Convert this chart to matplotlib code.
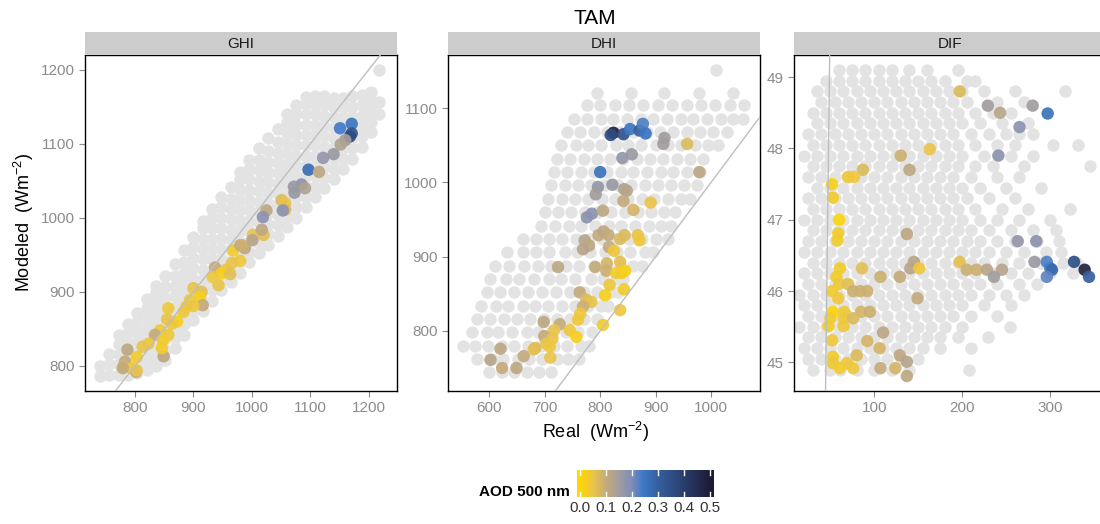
import numpy as np
import matplotlib
matplotlib.use('Agg')
import matplotlib.pyplot as plt
from matplotlib.colors import LinearSegmentedColormap, Normalize

plt.rcParams['font.family'] = ['Liberation Sans', 'DejaVu Sans']
plt.rcParams['mathtext.fontset'] = 'custom'
plt.rcParams['mathtext.rm'] = 'Liberation Sans'
plt.rcParams['mathtext.it'] = 'Liberation Sans:italic'

# ---- data ---------------------------------------------------------------
# grey background clouds: GHI as columns (x, [y...]), DHI / DIF as rows (y, [x...])
ghi_grey = [
    (740, [786, 800]),
    (756, [788, 802, 816]),
    (772, [788, 802, 816, 830, 842]),
    (788, [788, 802, 816, 830, 844, 856]),
    (804, [790, 804, 818, 832, 846, 860, 872]),
    (820, [794, 808, 822, 836, 850, 864, 878, 890]),
    (836, [800, 814, 828, 842, 856, 870, 884, 898, 908]),
    (852, [808, 822, 836, 850, 864, 878, 892, 906, 922]),
    (868, [824, 838, 852, 866, 880, 894, 908, 922, 938]),
    (884, [842, 856, 870, 884, 898, 912, 926, 940, 956]),
    (900, [862, 876, 890, 904, 918, 932, 946, 960, 974]),
    (916, [874, 888, 902, 916, 930, 944, 958, 972, 986, 996]),
    (932, [888, 902, 916, 930, 944, 958, 972, 986, 1000, 1012]),
    (948, [902, 916, 930, 944, 958, 972, 986, 1000, 1014, 1028]),
    (964, [914, 928, 942, 956, 970, 984, 998, 1012, 1026, 1042]),
    (980, [926, 940, 954, 968, 982, 996, 1010, 1024, 1038, 1052, 1062]),
    (996, [940, 954, 968, 982, 996, 1010, 1024, 1038, 1052, 1066, 1078]),
    (1012, [952, 966, 980, 994, 1008, 1022, 1036, 1050, 1064, 1078, 1094]),
    (1028, [964, 978, 992, 1006, 1020, 1034, 1048, 1062, 1076, 1090, 1108]),
    (1044, [976, 990, 1004, 1018, 1032, 1046, 1060, 1074, 1088, 1102, 1120]),
    (1060, [988, 1002, 1016, 1030, 1044, 1058, 1072, 1086, 1100, 1114, 1130, 1140]),
    (1076, [1000, 1014, 1028, 1042, 1056, 1070, 1084, 1098, 1112, 1126, 1140, 1152]),
    (1092, [1014, 1028, 1042, 1056, 1070, 1084, 1098, 1112, 1126, 1140, 1154, 1163]),
    (1108, [1028, 1042, 1056, 1070, 1084, 1098, 1112, 1126, 1140, 1154, 1165]),
    (1124, [1040, 1054, 1068, 1082, 1096, 1110, 1124, 1138, 1152, 1164]),
    (1140, [1052, 1066, 1080, 1094, 1108, 1122, 1136, 1150, 1162]),
    (1156, [1066, 1080, 1094, 1108, 1122, 1136, 1150, 1162]),
    (1172, [1080, 1094, 1108, 1122, 1136, 1150, 1164]),
    (1188, [1096, 1110, 1124, 1138, 1152, 1166]),
    (1204, [1116, 1130, 1144, 1158, 1170]),
    (1218, [1140, 1156, 1200]),
]

dhi_grey = [
    (745, [600, 622, 645, 668, 690, 712]),
    (762, [578, 604, 624, 652, 672, 695, 722, 742, 762]),
    (780, [552, 575, 598, 622, 645, 670, 693, 716, 740, 765, 780]),
    (798, [568, 596, 616, 640, 668, 688, 712, 738, 760, 785]),
    (816, [578, 602, 626, 650, 674, 698, 722, 746, 770, 795]),
    (834, [585, 612, 634, 660, 682, 706, 732, 754, 778, 802, 815]),
    (852, [595, 620, 645, 670, 695, 720, 745, 770, 795, 820, 832]),
    (870, [602, 630, 654, 680, 707, 730, 755, 783, 805, 828, 842]),
    (888, [610, 636, 662, 688, 712, 738, 762, 788, 812, 836, 860, 875]),
    (906, [632, 660, 684, 708, 736, 758, 782, 808, 830, 854, 880, 895]),
    (924, [660, 684, 708, 732, 756, 780, 804, 828, 852, 876, 900, 922]),
    (942, [694, 718, 744, 766, 790, 816, 838, 862, 888, 910, 928]),
    (960, [700, 724, 748, 772, 796, 820, 844, 868, 892, 916, 935]),
    (978, [706, 732, 754, 778, 804, 826, 850, 876, 898, 922, 946, 962]),
    (996, [712, 736, 760, 784, 808, 832, 856, 880, 904, 928, 952, 975]),
    (1014, [716, 740, 766, 788, 812, 838, 860, 884, 910, 932, 956, 980]),
    (1032, [722, 746, 770, 794, 818, 842, 866, 890, 914, 938, 962, 986]),
    (1050, [730, 756, 778, 802, 828, 850, 874, 900, 922, 946, 972, 994, 1012]),
    (1068, [740, 764, 788, 812, 836, 860, 884, 908, 932, 956, 980, 1004, 1028]),
    (1086, [752, 776, 802, 824, 848, 874, 896, 920, 946, 968, 992, 1018, 1040, 1058]),
    (1104, [776, 800, 826, 852, 878, 904, 930, 956, 982, 1008, 1034, 1060]),
    (1120, [795, 855, 915, 978, 1040]),
    (1152, [1009]),
]

dif_grey = [
    (49.10, [60, 75, 90, 105, 120, 140, 160, 195]),
    (48.95, [45, 60, 75, 90, 105, 120, 135, 150, 165, 180, 205, 215]),
    (48.80, [35, 50, 65, 80, 95, 110, 125, 140, 155, 170, 185, 200, 225, 260, 317]),
    (48.65, [40, 55, 70, 85, 100, 115, 130, 145, 160, 175, 190, 205, 240, 270]),
    (48.50, [30, 45, 60, 75, 90, 105, 120, 135, 150, 165, 180, 195, 215, 235, 255]),
    (48.35, [35, 50, 65, 80, 95, 110, 125, 140, 155, 170, 185, 200, 220, 245, 275]),
    (48.20, [25, 40, 55, 70, 85, 100, 115, 130, 145, 160, 175, 190, 210, 230, 250, 265, 280]),
    (48.05, [30, 45, 60, 75, 90, 105, 120, 135, 150, 165, 180, 195, 215, 240, 260, 303, 331]),
    (47.90, [20, 35, 50, 65, 80, 95, 110, 125, 140, 155, 170, 185, 200, 225, 255, 280]),
    (47.75, [30, 45, 60, 75, 90, 105, 120, 135, 150, 165, 180, 195, 215, 235, 270, 345]),
    (47.60, [25, 40, 55, 70, 85, 100, 115, 130, 145, 160, 175, 190, 210, 240, 265]),
    (47.45, [35, 50, 65, 80, 95, 110, 125, 140, 155, 170, 185, 200, 220, 250, 290]),
    (47.30, [25, 40, 55, 70, 85, 100, 115, 130, 145, 160, 175, 190, 205, 230, 260]),
    (47.15, [30, 45, 60, 75, 90, 105, 120, 135, 150, 165, 180, 195, 215, 245, 275, 322]),
    (47.00, [20, 35, 50, 65, 80, 95, 110, 125, 140, 155, 170, 185, 200, 220, 240, 265, 300]),
    (46.85, [30, 45, 60, 75, 90, 105, 120, 135, 150, 165, 180, 195, 210, 230, 255, 280, 307]),
    (46.70, [25, 40, 55, 70, 85, 100, 115, 130, 145, 160, 175, 190, 205, 220, 240, 260, 285, 310]),
    (46.55, [20, 35, 50, 65, 80, 95, 110, 125, 140, 155, 170, 185, 200, 215, 230, 250, 270, 295, 312]),
    (46.40, [30, 45, 60, 75, 90, 105, 120, 135, 150, 165, 180, 195, 210, 225, 245, 265, 290, 315, 330]),
    (46.25, [20, 35, 50, 65, 80, 95, 110, 125, 140, 155, 170, 185, 200, 215, 235, 255, 275, 300, 326]),
    (46.10, [25, 40, 55, 70, 85, 100, 115, 130, 145, 160, 175, 190, 205, 220, 240, 265, 285]),
    (45.95, [15, 30, 45, 60, 75, 90, 105, 120, 135, 150, 165, 180, 195, 210, 230, 250, 270]),
    (45.80, [20, 35, 50, 65, 80, 95, 110, 125, 140, 155, 170, 185, 200, 225, 255]),
    (45.65, [25, 40, 55, 70, 85, 100, 115, 130, 145, 160, 175, 190, 210, 240]),
    (45.50, [15, 30, 45, 60, 75, 90, 105, 120, 135, 150, 165, 180, 200, 254]),
    (45.35, [25, 40, 55, 70, 85, 100, 115, 130, 145, 160, 175, 195, 229]),
    (45.20, [20, 35, 50, 65, 80, 95, 110, 125, 140, 155, 175, 210]),
    (45.05, [25, 40, 55, 70, 85, 100, 115, 130, 150]),
    (44.90, [30, 50, 61, 80, 100, 120, 140, 208]),
]

# coloured points: (real, modeled, AOD 500 nm)
ghi_col = [
    (1171, 1127, 0.25), (1151, 1121, 0.24), (1171, 1114, 0.33), (1168, 1110, 0.36),
    (1160, 1105, 0.15), (1152, 1099, 0.13), (1140, 1086, 0.16), (1122, 1081, 0.17),
    (1097, 1065, 0.27), (1115, 1062, 0.11), (1085, 1045, 0.18), (1072, 1042, 0.16),
    (1091, 1040, 0.13), (1073, 1034, 0.16), (1051, 1024, 0.07), (1057, 1020, 0.05),
    (1057, 1011, 0.07), (1053, 1010, 0.18), (1025, 1010, 0.11), (1019, 1001, 0.18),
    (1002, 977, 0.05), (1020, 977, 0.06), (1017, 984, 0.11), (1001, 970, 0.12),
    (988, 959, 0.11), (968, 956, 0.03), (980, 963, 0.10), (983, 963, 0.09),
    (980, 942, 0.04), (966, 939, 0.05), (937, 933, 0.10), (956, 930, 0.05),
    (948, 925, 0.02), (963, 924, 0.06), (933, 920, 0.04), (943, 909, 0.05),
    (900, 905, 0.05), (914, 900, 0.06), (911, 893, 0.02), (894, 889, 0.04),
    (916, 882, 0.10), (900, 881, 0.04), (888, 880, 0.05), (857, 878, 0.04),
    (883, 873, 0.04), (872, 860, 0.02), (863, 857, 0.04), (855, 863, 0.05),
    (843, 848, 0.04), (834, 842, 0.10), (857, 842, 0.04), (848, 835, 0.03),
    (823, 830, 0.04), (813, 826, 0.05), (787, 822, 0.11), (849, 813, 0.11),
    (803, 812, 0.03), (846, 824, 0.03), (783, 806, 0.10), (780, 799, 0.08),
    (794, 797, 0.04), (802, 792, 0.11), (779, 797, 0.10), (803, 794, 0.05),
]

dhi_col = [
    (824, 1067, 0.48), (819, 1064, 0.36), (842, 1065, 0.34), (854, 1072, 0.25),
    (871, 1070, 0.30), (877, 1079, 0.23), (882, 1066, 0.25), (916, 1060, 0.15),
    (914, 1052, 0.15), (957, 1052, 0.07), (840, 1033, 0.17), (857, 1038, 0.16),
    (800, 1014, 0.26), (979, 1014, 0.11), (796, 994, 0.17), (822, 997, 0.16),
    (792, 984, 0.15), (843, 991, 0.13), (848, 989, 0.12), (842, 975, 0.10),
    (891, 973, 0.05), (860, 963, 0.08), (776, 953, 0.18), (785, 958, 0.18),
    (805, 962, 0.11), (797, 929, 0.10), (806, 934, 0.11), (815, 929, 0.10),
    (836, 924, 0.07), (844, 929, 0.07), (868, 929, 0.05), (871, 922, 0.04),
    (772, 922, 0.12), (780, 915, 0.11), (769, 910, 0.12), (816, 913, 0.10),
    (825, 908, 0.04), (724, 886, 0.11), (791, 886, 0.10), (812, 891, 0.08),
    (811, 881, 0.09), (836, 893, 0.06), (829, 878, 0.03), (839, 878, 0.03),
    (845, 881, 0.02), (817, 862, 0.04), (843, 856, 0.03), (809, 848, 0.02),
    (763, 852, 0.10), (775, 842, 0.07), (784, 839, 0.05), (769, 833, 0.09),
    (764, 823, 0.04), (760, 815, 0.04), (836, 828, 0.04), (805, 808, 0.03),
    (698, 812, 0.11), (727, 809, 0.10), (717, 801, 0.05), (745, 801, 0.04),
    (757, 792, 0.02), (699, 793, 0.10), (714, 790, 0.05), (683, 777, 0.07),
    (703, 783, 0.05), (710, 764, 0.05), (620, 776, 0.11), (602, 761, 0.12),
    (623, 750, 0.10), (662, 766, 0.10), (649, 750, 0.11), (680, 775, 0.06),
    (709, 779, 0.04),
]

dif_col = [
    (197, 48.80, 0.07), (229, 48.60, 0.15), (243, 48.50, 0.12), (280, 48.60, 0.15),
    (297, 48.49, 0.26), (265, 48.30, 0.18), (163, 47.99, 0.05), (130, 47.90, 0.09),
    (140, 47.70, 0.11), (241, 47.90, 0.18), (87, 47.70, 0.07), (70, 47.60, 0.04),
    (77, 47.60, 0.04), (52, 47.50, 0.02), (53, 47.31, 0.03), (60, 47.00, 0.01),
    (59, 46.81, 0.03), (58, 46.71, 0.03), (137, 46.80, 0.11), (263, 46.70, 0.17),
    (284, 46.70, 0.18), (282, 46.41, 0.16), (296, 46.41, 0.23), (300, 46.32, 0.24),
    (302, 46.30, 0.28), (296, 46.20, 0.22), (327, 46.41, 0.35), (339, 46.30, 0.48),
    (344, 46.20, 0.30), (197, 46.41, 0.06), (205, 46.30, 0.09), (216, 46.30, 0.09),
    (228, 46.30, 0.12), (245, 46.30, 0.12), (236, 46.20, 0.15), (61, 46.32, 0.03),
    (86, 46.32, 0.06), (107, 46.20, 0.09), (129, 46.20, 0.10), (141, 46.32, 0.12),
    (145, 46.41, 0.12), (151, 46.32, 0.04), (57, 46.20, 0.03), (60, 46.10, 0.04),
    (70, 46.10, 0.06), (52, 46.00, 0.03), (76, 46.00, 0.09), (84, 46.00, 0.09),
    (92, 46.00, 0.09), (59, 45.90, 0.04), (149, 45.90, 0.10), (53, 45.71, 0.01),
    (66, 45.71, 0.04), (85, 45.71, 0.08), (95, 45.71, 0.09), (50, 45.62, 0.03),
    (65, 45.62, 0.04), (76, 45.62, 0.07), (48, 45.51, 0.03), (65, 45.51, 0.04),
    (110, 45.42, 0.11), (52, 45.31, 0.04), (92, 45.30, 0.08), (106, 45.20, 0.08),
    (129, 45.10, 0.11), (137, 45.01, 0.12), (53, 45.08, 0.03), (80, 45.10, 0.07),
    (53, 44.99, 0.04), (69, 44.99, 0.04), (61, 44.92, 0.03), (76, 44.92, 0.04),
    (107, 44.92, 0.10), (124, 44.92, 0.08), (137, 44.81, 0.11),
]

panel_names = ['GHI', 'DHI', 'DIF']
ghi_ticks = [800, 900, 1000, 1100, 1200]
dhi_xticks = [600, 700, 800, 900, 1000]
dhi_yticks = [800, 900, 1000, 1100]
dif_xticks = [100, 200, 300]
dif_yticks = [45, 46, 47, 48, 49]
aod_ticks = [0.0, 0.1, 0.2, 0.3, 0.4, 0.5]

# ---- colour scale -------------------------------------------------------
VMIN, VMAX = -0.012, 0.515
stops = [(0.0, '#ffd700'), (0.05, '#e9c44c'), (0.10, '#c4ab7c'), (0.15, '#a19d9f'),
         (0.20, '#7e8dba'), (0.24, '#3f7bc8'), (0.30, '#36609f'), (0.40, '#2a3e6e'),
         (0.50, '#1e1b36')]
cmap = LinearSegmentedColormap.from_list(
    'aod', [(0.0, stops[0][1])] +
    [((v - VMIN) / (VMAX - VMIN), c) for v, c in stops] + [(1.0, stops[-1][1])])
norm = Normalize(VMIN, VMAX)

W, H = 1100, 524
GREY = '#e3e3e3'
TICK_GREY = '#8c8c8c'
SIZE = 80


def box(l, t, r, b):
    return [l / W, 1 - b / H, (r - l) / W, (b - t) / H]


def flatten_cols(cols):
    xs, ys = [], []
    for x, yl in cols:
        xs += [x] * len(yl)
        ys += yl
    return xs, ys


def flatten_rows(rows):
    xs, ys = [], []
    for y, xl in rows:
        xs += xl
        ys += [y] * len(xl)
    return xs, ys


fig = plt.figure(figsize=(11, 5.24), dpi=100)

panels = [
    ('GHI', 85, flatten_cols(ghi_grey), ghi_col, (714.4, 1248.5), (766.2, 1219.9), ghi_ticks, ghi_ticks),
    ('DHI', 448, flatten_rows(dhi_grey), dhi_col, (525.4, 1088.4), (719.0, 1171.8), dhi_xticks, dhi_yticks),
    ('DIF', 794, flatten_rows(dif_grey), dif_col, (8.75, 363.3), (44.6, 49.31), dif_xticks, dif_yticks),
]

for name, left, (gx, gy), col, xl, yl, xt, yt in panels:
    ax = fig.add_axes(box(left, 55, left + 312, 391))
    ax.scatter(gx, gy, s=SIZE, color=GREY, linewidths=0, zorder=1)
    cx = [p[0] for p in col]
    cy = [p[1] for p in col]
    ca = [p[2] for p in col]
    ax.scatter(cx, cy, s=SIZE, c=ca, cmap=cmap, norm=norm, linewidths=0, alpha=0.92, zorder=2)
    ax.axline((0, 0), slope=1, color='#bebebe', lw=1.0, zorder=3)
    ax.set_xlim(*xl)
    ax.set_ylim(*yl)
    ax.set_xticks(xt)
    ax.set_yticks(yt)
    ax.tick_params(labelsize=11, colors=TICK_GREY, length=4, width=0.8)
    for sp in ax.spines.values():
        sp.set_color('black')
        sp.set_linewidth(1.0)

    strip = fig.add_axes(box(left, 32, left + 312, 55))
    strip.set_facecolor('#cccccc')
    strip.set_xticks([])
    strip.set_yticks([])
    for sp in strip.spines.values():
        sp.set_visible(False)
    strip.text(0.5, 0.5, name, ha='center', va='center', fontsize=11, color='#1a1a1a',
               transform=strip.transAxes)

fig.text(595 / W, 1 - 18 / H, 'TAM', ha='center', va='center', fontsize=15)
fig.text(595 / W, 1 - 432 / H, 'Real  (Wm$^{-2}$)', ha='center', va='center', fontsize=13)
fig.text(24 / W, 1 - 223 / H, 'Modeled  (Wm$^{-2}$)', ha='center', va='center',
         fontsize=13, rotation=90)

# colour bar
cax = fig.add_axes(box(577, 470, 714, 497))
grad = np.linspace(VMIN, VMAX, 256).reshape(1, -1)
cax.imshow(grad, aspect='auto', cmap=cmap, norm=norm, extent=[VMIN, VMAX, 0, 1])
for t in aod_ticks:
    cax.plot([t, t], [0, 0.2], color='white', lw=1)
    cax.plot([t, t], [0.8, 1], color='white', lw=1)
cax.set_xlim(VMIN, VMAX)
cax.set_ylim(0, 1)
cax.set_yticks([])
cax.set_xticks(aod_ticks)
cax.set_xticklabels(['%.1f' % t for t in aod_ticks])
cax.tick_params(axis='x', length=0, labelsize=11, colors='#333333', pad=3)
for sp in cax.spines.values():
    sp.set_visible(False)
fig.text(570 / W, 1 - 492 / H, 'AOD 500 nm', ha='right', va='center', fontsize=11,
         fontweight='bold')

fig.savefig('out.png', dpi=100)
